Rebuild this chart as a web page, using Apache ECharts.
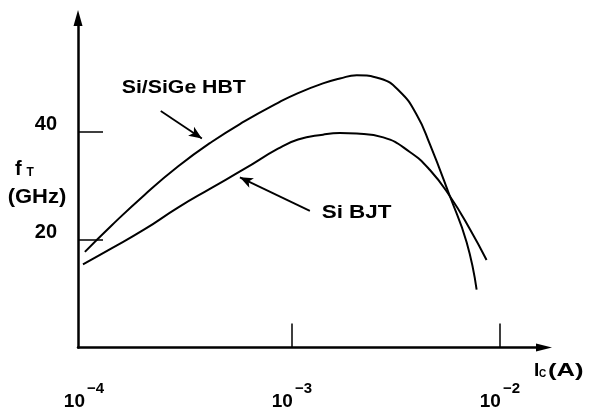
<!DOCTYPE html>
<html>
<head>
<meta charset="utf-8">
<script src="https://cdn.jsdelivr.net/npm/echarts@6/dist/echarts.min.js"></script>
<style>
html,body{margin:0;padding:0;background:#fff;}
#chart{width:589px;height:411px;}
</style>
</head>
<body>
<div id="chart"></div>
<script>
// Collector current Ic (A) and fT (GHz)
const hbtIc = [1.01e-4, 1.35e-4, 1.96e-4, 2.83e-4, 4.09e-4, 5.93e-4, 8.57e-4, 1.07e-3, 1.41e-3, 1.70e-3, 2.05e-3, 2.65e-3, 3.30e-3, 3.98e-3, 4.60e-3, 5.75e-3, 6.92e-3, 7.73e-3];
const hbtFt = [17.7, 22.5, 28.3, 33.5, 38.0, 41.9, 45.3, 47.1, 48.9, 49.8, 50.4, 49.8, 47.4, 43.1, 37.7, 28.0, 19.5, 10.7];
const bjtIc = [9.89e-5, 1.35e-4, 1.96e-4, 2.83e-4, 4.09e-4, 5.93e-4, 8.57e-4, 1.07e-3, 1.41e-3, 1.70e-3, 2.05e-3, 2.75e-3, 3.69e-3, 4.60e-3, 5.75e-3, 7.18e-3, 8.63e-3];
const bjtFt = [15.4, 18.3, 21.9, 25.9, 29.5, 33.1, 36.8, 38.5, 39.4, 39.7, 39.6, 38.9, 36.2, 32.9, 28.0, 21.9, 16.2];

// Axis ticks / labels
const xTickValues = [1e-3, 1e-2];
const xLabelValues = [1e-4, 1e-3, 1e-2];
const yTickValues = [20, 40];
const yLabelValues = [20, 40];
const xMin = 9.36e-5, xMax = 0.0163;
const yMin = 0, yMax = 61;

// Annotation arrows (start point, end point) in data coordinates
const hbtArrow = [[2.34e-4, 43.8], [3.69e-4, 38.7]];
const bjtArrow = [[1.22e-3, 25.3], [5.62e-4, 31.5]];

const FONT = '"Liberation Sans", Arial, Helvetica, sans-serif';
const chart = echarts.init(document.getElementById('chart'), null, {renderer: 'canvas'});

function pairs(xs, ys) { return xs.map((x, i) => [x, ys[i]]); }
function arrowLine(a) { return [{coord: a[0]}, {coord: a[1]}]; }

const option = {
  animation: false,
  backgroundColor: '#ffffff',
  grid: {left: 78, right: 45, top: 18, bottom: 57.5},
  xAxis: {
    type: 'log', logBase: 10, min: xMin, max: xMax,
    axisLine: {show: true, lineStyle: {color: '#000', width: 2.5}, symbol: ['none', 'triangle'], symbolSize: [8, 16]},
    axisTick: {show: true, inside: true, length: 24, lineStyle: {color: '#000', width: 1.5}, customValues: xTickValues},
    minorTick: {show: false},
    splitLine: {show: false},
    axisLabel: {
      customValues: xLabelValues,
      margin: 33.5,
      formatter: function (v) { return '{b|10}{e|\u2212' + Math.round(-Math.log10(v)) + '}'; },
      rich: {
        b: {fontSize: 19, fontWeight: 'bold', fontFamily: FONT, color: '#000', lineHeight: 30, verticalAlign: 'bottom'},
        e: {fontSize: 15, fontWeight: 'bold', fontFamily: FONT, color: '#000', lineHeight: 11, verticalAlign: 'top', padding: [0, 0, 0, 2]}
      }
    }
  },
  yAxis: {
    type: 'value', min: yMin, max: yMax,
    axisLine: {show: true, lineStyle: {color: '#000', width: 2.5}, symbol: ['none', 'triangle'], symbolSize: [9, 16]},
    axisTick: {show: true, inside: true, length: 25, lineStyle: {color: '#000', width: 1.5}, customValues: yTickValues},
    splitLine: {show: false},
    axisLabel: {
      customValues: yLabelValues, margin: 21,
      fontSize: 20, fontWeight: 'bold', fontFamily: FONT, color: '#000',
      verticalAlign: 'bottom', lineHeight: 14
    }
  },
  series: [
    {
      name: 'Si/SiGe HBT', type: 'line', data: pairs(hbtIc, hbtFt),
      showSymbol: false, smooth: 0.5,
      lineStyle: {color: '#000', width: 2},
      markLine: {
        silent: true, symbol: ['none', 'arrow'], symbolSize: [8, 13],
        label: {show: false},
        lineStyle: {color: '#000', width: 1.8, type: 'solid'},
        data: [arrowLine(hbtArrow), arrowLine(bjtArrow)]
      }
    },
    {
      name: 'Si BJT', type: 'line', data: pairs(bjtIc, bjtFt),
      showSymbol: false, smooth: 0.5,
      lineStyle: {color: '#000', width: 2}
    }
  ],
  graphic: [
    {type: 'text', x: 121.7, y: 88, scaleX: 1.12,
      style: {text: 'Si/SiGe HBT', fontSize: 19, fontWeight: 'bold', fontFamily: FONT, fill: '#000', align: 'left', verticalAlign: 'middle'}},
    {type: 'text', x: 321.7, y: 213, scaleX: 1.18,
      style: {text: 'Si BJT', fontSize: 19, fontWeight: 'bold', fontFamily: FONT, fill: '#000', align: 'left', verticalAlign: 'middle'}},
    {type: 'text', x: 15, y: 169,
      style: {text: 'f', fontSize: 20, fontWeight: 'bold', fontFamily: FONT, fill: '#000', align: 'left', verticalAlign: 'middle'}},
    {type: 'text', x: 26.5, y: 172.5,
      style: {text: 'T', fontSize: 12, fontWeight: 'bold', fontFamily: FONT, fill: '#000', align: 'left', verticalAlign: 'middle'}},
    {type: 'text', x: 37, y: 197.5, scaleX: 1.1,
      style: {text: '(GHz)', fontSize: 20, fontWeight: 'bold', fontFamily: FONT, fill: '#000', align: 'center', verticalAlign: 'middle'}},
    {type: 'text', x: 534, y: 370.5,
      style: {text: 'I', fontSize: 19, fontWeight: 'bold', fontFamily: FONT, fill: '#000', align: 'left', verticalAlign: 'middle'}},
    {type: 'text', x: 539, y: 374,
      style: {text: 'C', fontSize: 10, fontWeight: 'bold', fontFamily: FONT, fill: '#000', align: 'left', verticalAlign: 'middle'}},
    {type: 'text', x: 548, y: 370.5, scaleX: 1.35,
      style: {text: '(A)', fontSize: 19, fontWeight: 'bold', fontFamily: FONT, fill: '#000', align: 'left', verticalAlign: 'middle'}}
  ]
};
chart.setOption(option);
</script>
</body>
</html>
